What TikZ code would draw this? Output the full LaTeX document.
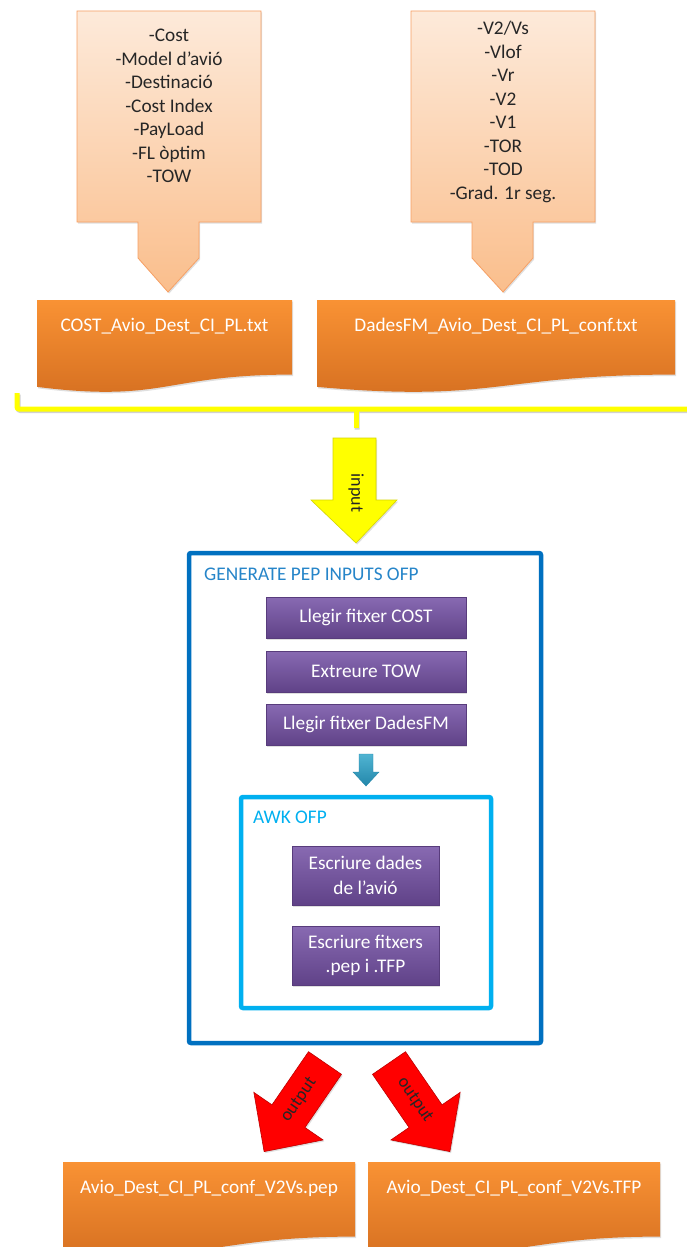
\documentclass[tikz,border=0pt]{standalone}
\usepackage{fontspec}
\setmainfont{Carlito}
\usetikzlibrary{shadows}

\definecolor{peachtop}{RGB}{253,234,218}
\definecolor{peachbot}{RGB}{250,190,140}
\definecolor{peachline}{RGB}{247,160,100}
\definecolor{orgtop}{RGB}{249,146,52}
\definecolor{orgbot}{RGB}{212,110,32}
\definecolor{purtop}{RGB}{136,106,178}
\definecolor{purbot}{RGB}{96,66,136}
\definecolor{purline}{RGB}{88,60,124}
\definecolor{outerblue}{RGB}{0,112,192}
\definecolor{innerblue}{RGB}{0,176,240}
\definecolor{ylw}{RGB}{255,255,0}
\definecolor{ylwline}{RGB}{215,215,0}
\definecolor{redline}{RGB}{190,0,0}
\definecolor{teal1}{RGB}{80,180,210}
\definecolor{teal2}{RGB}{35,135,170}
\definecolor{txtdark}{RGB}{38,38,38}

% Office-style "document" outline with a wavy lower edge
\newcommand{\docpath}[4]{% x1, ytop, x2, height
  (#1,-#2) -- (#3,-#2) -- (#3,{-(#2+0.802*#4)})
  .. controls ({(#1+#3)/2},{-(#2+0.802*#4)}) and ({(#1+#3)/2},{-(#2+1.107*#4)})
  .. (#1,{-(#2+0.934*#4)}) -- cycle}

% block arrow along the local x axis: shaft half width, head half width,
% total length, head length
\newcommand{\blockarrow}[4]{%
  (0,#1) -- ({#3-#4},#1) -- ({#3-#4},#2) -- (#3,0) -- ({#3-#4},-#2)
  -- ({#3-#4},-#1) -- (0,-#1) -- cycle}

\tikzset{
  x=1pt, y=1pt,
  soft shadow/.style={drop shadow={shadow xshift=1.2pt, shadow yshift=-1.5pt, opacity=0.25}},
  calloutfill/.style={top color=peachtop, bottom color=peachbot, draw=peachline, line width=0.8pt, soft shadow},
  docfill/.style={top color=orgtop, bottom color=orgbot, draw=none, soft shadow},
  doctext/.style={text=white, font=\fontsize{19.3}{23}\selectfont},
  listtext/.style={text=txtdark, align=center, font=\fontsize{19.3}{23.5}\selectfont},
  pbox/.style={rectangle, top color=purtop, bottom color=purbot, draw=purline, line width=0.6pt,
    text=white, align=center, font=\fontsize{19.3}{24.5}\selectfont, soft shadow, inner sep=0pt},
  frame/.style={line width=4.5pt, rounded corners=2pt},
  arrowtext/.style={text=txtdark, font=\fontsize{18}{20}\selectfont, inner sep=1pt},
  redarrow/.style={fill=red, draw=redline, line width=0.6pt, soft shadow},
}

\begin{document}
\begin{tikzpicture}
\useasboundingbox[fill=white] (0,0) rectangle (686,-1247);

% ---- input callouts ----
\path[calloutfill] (77,-11) -- (261,-11) -- (261,-222) -- (199,-222) -- (199,-258)
  -- (168,-292) -- (138,-258) -- (138,-222) -- (77,-222) -- cycle;
\node[listtext] (costlist) at (169,-106)
  {-Cost\\-Model d’avió\\-Destinació\\-Cost Index\\-PayLoad\\-FL òptim\\-TOW};

\path[calloutfill] (411,-11) -- (595,-11) -- (595,-222) -- (533,-222) -- (533,-258)
  -- (503,-292) -- (472,-258) -- (472,-222) -- (411,-222) -- cycle;
\node[listtext] (fmlist) at (503,-112)
  {-V2/Vs\\-Vlof\\-Vr\\-V2\\-V1\\-TOR\\-TOD\\-Grad. 1r seg.};

% ---- input files ----
\path[docfill] \docpath{37}{300}{292}{93};
\node[doctext] (costfile) at (164.5,-326) {COST\_Avio\_Dest\_CI\_PL.txt};
\path[docfill] \docpath{317}{300}{675}{93};
\node[doctext] (fmfile) at (496,-326) {DadesFM\_Avio\_Dest\_CI\_PL\_conf.txt};

% ---- yellow bracket gathering both files ----
\coordinate (brL) at (17,-393);
\coordinate (brC) at (356,-409);
\coordinate (brR) at (690,-409);
\coordinate (brT) at (356,-428);
\begin{scope}[line width=5pt, rounded corners=2pt]
  \draw[black, opacity=0.18, transform canvas={xshift=1.2pt, yshift=-1.5pt}]
    (brL) |- (brR) (brC) -- (brT);
  \draw[ylw] (brL) |- (brR);
  \draw[ylw] (brC) -- (brT);
\end{scope}

% ---- input arrow ----
\path[fill=ylw, draw=ylwline, line width=0.6pt, soft shadow]
  (333,-438) -- (376,-438) -- (376,-500) -- (397,-500) -- (356,-543)
  -- (311,-500) -- (333,-500) -- cycle;
\node[arrowtext, rotate=-90] (inlabel) at (356,-493) {input};

% ---- main process ----
\draw[frame, outerblue] (189,-553) rectangle (541,-1043);
\node[anchor=west, text=outerblue!85!white, font=\fontsize{19.3}{23}\selectfont, inner sep=0pt]
  (gentitle) at (204,-574) {GENERATE PEP INPUTS OFP};

\node[pbox, minimum width=200, minimum height=41] (readcost) at (366,-617.5) {Llegir fitxer COST};
\node[pbox, minimum width=200, minimum height=41] (tow) at (366,-671.5) {Extreure TOW};
\node[pbox, minimum width=200, minimum height=41] (readfm) at (366,-724.5) {Llegir fitxer DadesFM};

% small step arrow
\path[top color=teal1, bottom color=teal2, draw=teal2, line width=0.4pt]
  (359,-754) -- (373,-754) -- (373,-772) -- (379,-772) -- (366,-786)
  -- (353,-772) -- (359,-772) -- cycle;

\draw[frame, innerblue] (241,-797) rectangle (491,-1008);
\node[anchor=west, text=innerblue, font=\fontsize{19.3}{23}\selectfont, inner sep=0pt]
  (awktitle) at (253,-817) {AWK OFP};

\node[pbox, minimum width=147, minimum height=59] (writeav) at (365.5,-875.5) {Escriure dades\\de l’avió};
\node[pbox, minimum width=147, minimum height=59] (writefiles) at (365.5,-955.5) {Escriure fitxers\\.pep i .TFP};

% ---- output arrows ----
\begin{scope}[shift={(325,-1063)}, rotate=-124.5]
  \path[redarrow] \blockarrow{20}{42}{107.5}{43};
\end{scope}
\node[arrowtext, rotate=55.5] (outlabelA) at (299,-1100) {output};

\begin{scope}[shift={(389,-1063)}, rotate=-55.5]
  \path[redarrow] \blockarrow{20}{42}{107.5}{43};
\end{scope}
\node[arrowtext, rotate=-55.5] (outlabelB) at (415,-1100) {output};

% ---- output files ----
\path[docfill] \docpath{63}{1162}{355}{93};
\node[doctext] (pepfile) at (209,-1188) {Avio\_Dest\_CI\_PL\_conf\_V2Vs.pep};
\path[docfill] \docpath{368}{1162}{660}{93};
\node[doctext] (tfpfile) at (514,-1188) {Avio\_Dest\_CI\_PL\_conf\_V2Vs.TFP};

\end{tikzpicture}
\end{document}
